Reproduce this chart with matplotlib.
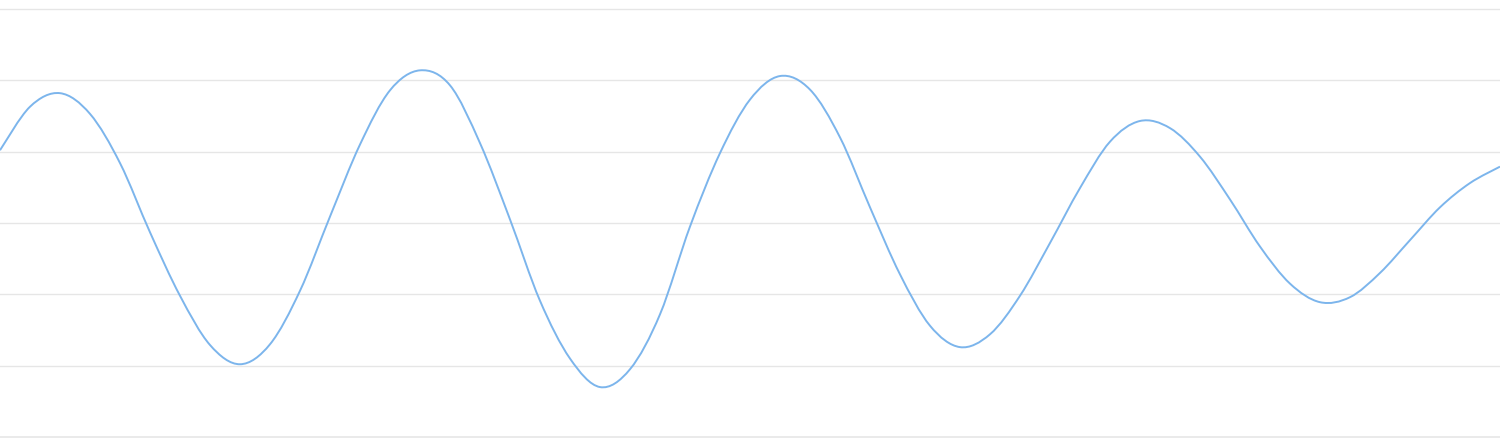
import numpy as np
import matplotlib
matplotlib.use("Agg")
import matplotlib.pyplot as plt
from matplotlib.path import Path
from matplotlib.patches import PathPatch

# --- data: one point every 30 px along the x axis ---
x_vals = list(range(0, 1501, 30))
y_vals = [1.02, 1.63, 1.82, 1.53, 0.84, -0.13, -1.02, -1.71, -1.98, -1.70,
          -0.95, 0.09, 1.10, 1.86, 2.14, 1.93, 1.12, 0.05, -1.09, -1.90,
          -2.30, -2.05, -1.28, -0.05, 0.98, 1.73, 2.06, 1.87, 1.20, 0.22,
          -0.72, -1.44, -1.74, -1.56, -1.02, -0.28, 0.49, 1.14, 1.43, 1.33,
          0.93, 0.33, -0.33, -0.85, -1.11, -1.04, -0.70, -0.24, 0.22, 0.56,
          0.79]
grid_levels = [-3, -2, -1, 0, 1, 2, 3]

LINE_COLOR = "#7cb5ec"
GRID_COLOR = "#e6e6e6"


# smooth bezier path through the points (catmull-rom style, like a spline series)
def spline_path(xs, ys):
    pts = np.column_stack([xs, ys]).astype(float)
    n = len(pts)
    verts = [tuple(pts[0])]
    codes = [Path.MOVETO]
    for i in range(n - 1):
        p_prev = pts[i - 1] if i > 0 else pts[i]
        p0 = pts[i]
        p1 = pts[i + 1]
        p_next = pts[i + 2] if i + 2 < n else pts[i + 1]
        c1 = p0 + (p1 - p_prev) / 6.0
        c2 = p1 - (p_next - p0) / 6.0
        verts += [tuple(c1), tuple(c2), tuple(p1)]
        codes += [Path.CURVE4] * 3
    return Path(verts, codes)


def main():
    fig = plt.figure(figsize=(15, 4.45), dpi=100)
    ax = fig.add_axes([0, 0, 1, 1])

    # horizontal grid lines only
    for level in grid_levels:
        ax.axhline(level, color=GRID_COLOR, lw=1.2 if level == -3 else 1.0, zorder=1)

    patch = PathPatch(spline_path(x_vals, y_vals), facecolor="none",
                      edgecolor=LINE_COLOR, lw=1.4, zorder=3)
    ax.add_patch(patch)

    ax.set_xlim(0, 1500)
    ax.set_ylim(-3.112, 3.126)
    ax.axis("off")

    fig.savefig("out.png", dpi=100, facecolor="white")


if __name__ == "__main__":
    main()
